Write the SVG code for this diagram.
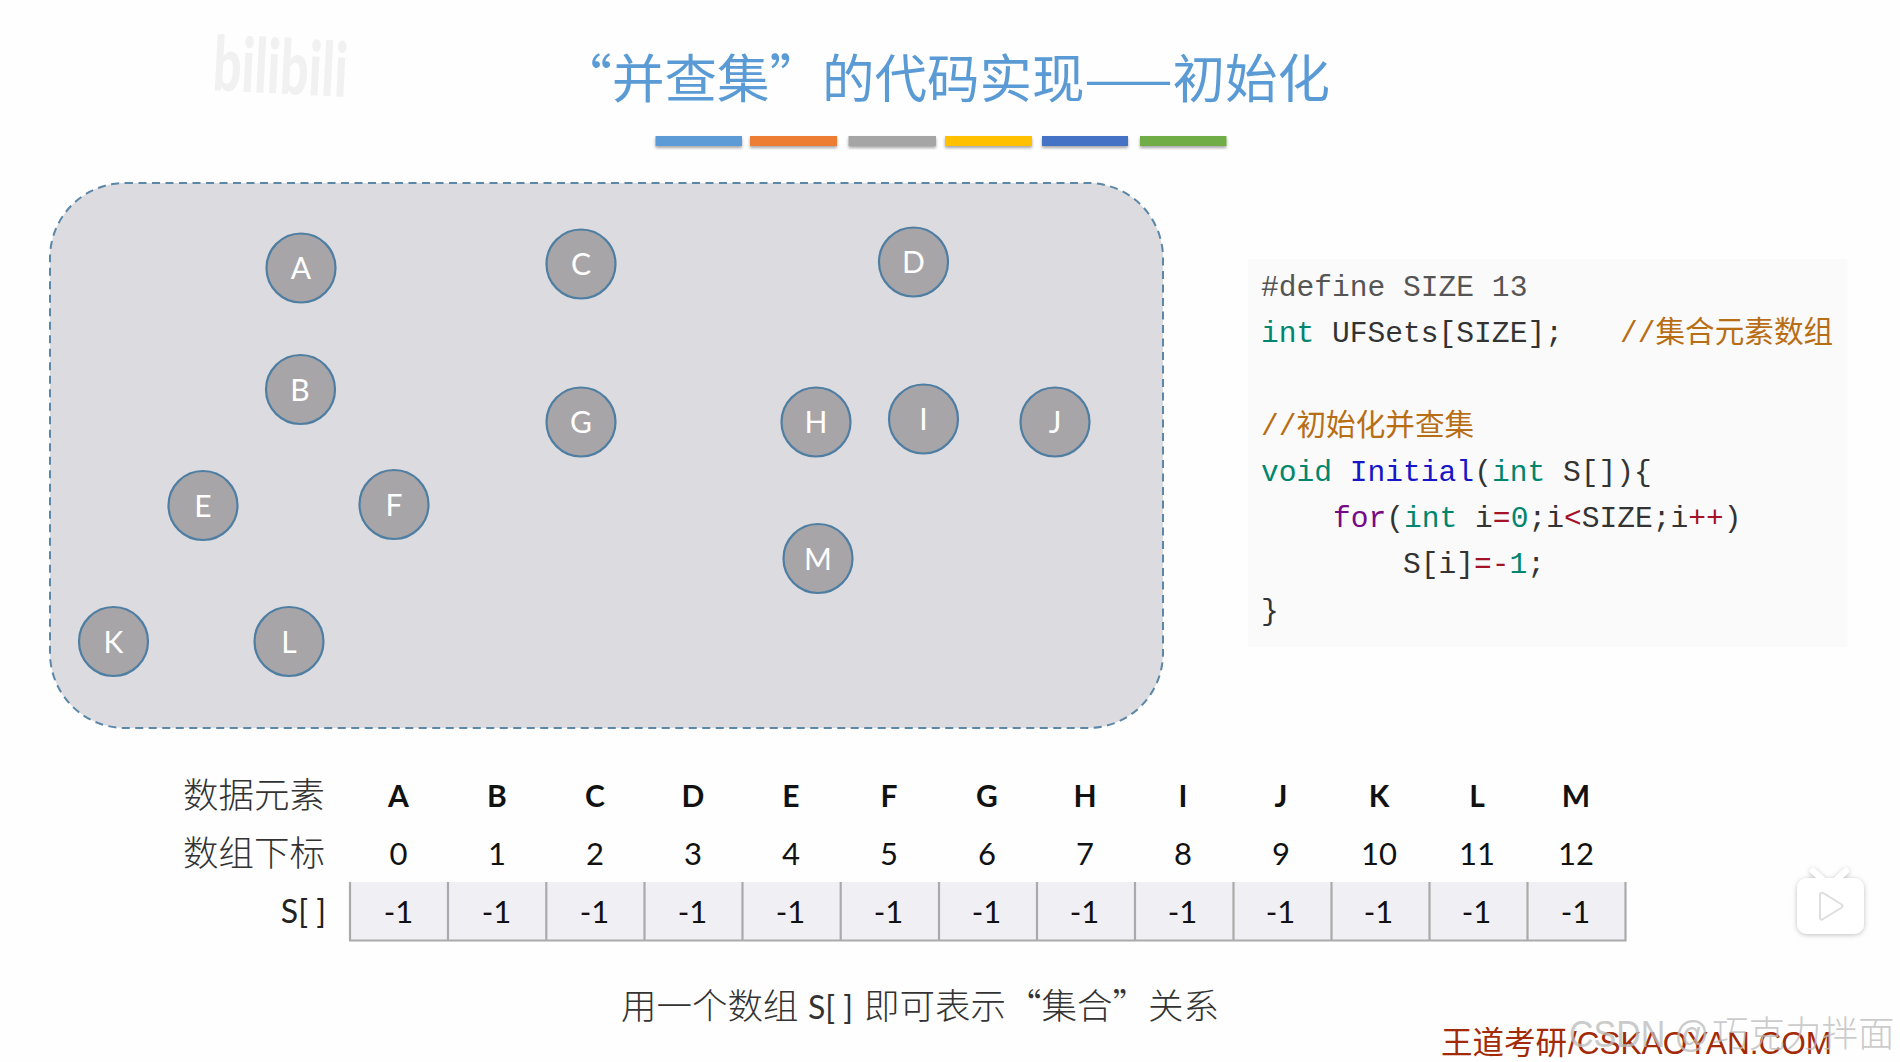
<svg xmlns="http://www.w3.org/2000/svg" width="1900" height="1062" viewBox="0 0 1900 1062">
<style>
.cjk{font-family:"Noto Sans CJK SC","Noto Sans",sans-serif}
.title{font-size:52.5px;fill:#5b9bd5;font-family:"Noto Sans CJK SC",sans-serif}
.node circle{fill:#a7a5a8;stroke:#4f7ea3;stroke-width:2.2}
.node text{font-family:Lato,"Noto Sans",sans-serif;font-size:30px;fill:#fff;text-anchor:middle}
.code{font-family:"Liberation Mono","Noto Sans CJK SC",monospace;font-size:29.6px;fill:#333;white-space:pre;stroke:#333;stroke-width:0}
.g{fill:#00866e}.b{fill:#1616c8}.p{fill:#760a86}.r{fill:#a31226}.c{fill:#b86e14}.d{fill:#555}
.h{font-family:Lato,sans-serif;font-size:30px;font-weight:700;fill:#111;text-anchor:middle}
.n{font-family:Lato,sans-serif;font-size:31px;fill:#111;text-anchor:middle}
.lab{font-family:"Noto Sans CJK SC",sans-serif;font-size:35.5px;fill:#333;font-weight:300}
.cell{fill:#f0eff3}
.grid{stroke:#aaa;stroke-width:2.2;fill:none}
</style>
<defs>
<filter id="sh" x="-20%" y="-20%" width="140%" height="160%"><feDropShadow dx="0" dy="2" stdDeviation="1.6" flood-color="#000" flood-opacity=".35"/></filter>
<filter id="soft" x="-30%" y="-30%" width="160%" height="160%"><feDropShadow dx="0" dy="1" stdDeviation="2.5" flood-color="#000" flood-opacity=".25"/></filter>
</defs>
<rect width="1900" height="1062" fill="#fefefe"/>
<g id="watermark-logo"><text transform="translate(212 90) rotate(3) scale(.96 1.45)" font-family="Lato,sans-serif" font-weight="900" font-size="52" fill="#f1f1f1">bilibili</text></g>
<g id="title"><text class="title" x="559.5" y="98">“并查集”的代码实现——初始化</text></g>
<g id="title-bars" filter="url(#sh)">
<rect x="655.5" y="136" width="86.5" height="10" fill="#5b9bd5"/>
<rect x="750" y="136" width="87" height="10" fill="#ed7d31"/>
<rect x="848.500" y="136" width="87.500" height="10" fill="#a5a5a5"/>
<rect x="945" y="136" width="87" height="10" fill="#ffc000"/>
<rect x="1042" y="136" width="86" height="10" fill="#4472c4"/>
<rect x="1140" y="136" width="86.500" height="10" fill="#70ad47"/>
</g>
<g id="set-panel"><rect x="50" y="183" width="1113" height="545" rx="75" ry="75" fill="#dcdbdf" stroke="#5b87a8" stroke-width="2" stroke-dasharray="8 5.500"/></g>
<g id="node-A" class="node"><circle cx="301" cy="268" r="34.5"/><text x="301" y="279">A</text></g>
<g id="node-B" class="node"><circle cx="300.500" cy="389.500" r="34.500"/><text x="300" y="400.500">B</text></g>
<g id="node-C" class="node"><circle cx="581" cy="264" r="34.500"/><text x="581" y="275">C</text></g>
<g id="node-D" class="node"><circle cx="913.500" cy="262" r="34.500"/><text x="913.500" y="273">D</text></g>
<g id="node-E" class="node"><circle cx="203" cy="505.500" r="34.500"/><text x="203" y="516.500">E</text></g>
<g id="node-F" class="node"><circle cx="394" cy="504.500" r="34.500"/><text x="394" y="515.500">F</text></g>
<g id="node-G" class="node"><circle cx="581" cy="422" r="34.500"/><text x="581" y="433">G</text></g>
<g id="node-H" class="node"><circle cx="816" cy="422" r="34.500"/><text x="816" y="433">H</text></g>
<g id="node-I" class="node"><circle cx="923.500" cy="419" r="34.500"/><text x="923.500" y="430">I</text></g>
<g id="node-J" class="node"><circle cx="1055" cy="422" r="34.500"/><text x="1055" y="433">J</text></g>
<g id="node-M" class="node"><circle cx="818" cy="558.500" r="34.500"/><text x="818" y="569.500">M</text></g>
<g id="node-K" class="node"><circle cx="113.500" cy="641.500" r="34.500"/><text x="113.500" y="652.500">K</text></g>
<g id="node-L" class="node"><circle cx="289" cy="641.500" r="34.500"/><text x="289" y="652.500">L</text></g>
<g id="code-block">
<rect x="1248" y="259" width="599.500" height="388" fill="#fafafa"/>
<text class="code" y="296"><tspan x="1261" class="d">#define SIZE 13</tspan></text>
<text class="code" y="342"><tspan x="1261" class="g">int</tspan><tspan> UFSets[SIZE];</tspan><tspan x="1620" class="c">//集合元素数组</tspan></text>
<text class="code" y="435"><tspan x="1261" class="c">//初始化并查集</tspan></text>
<text class="code" y="481"><tspan x="1261" class="g">void</tspan><tspan> </tspan><tspan class="b">Initial</tspan><tspan>(</tspan><tspan class="g">int</tspan><tspan> S[]){</tspan></text>
<text class="code" y="527"><tspan x="1333" class="p">for</tspan><tspan>(</tspan><tspan class="g">int</tspan><tspan> i</tspan><tspan class="r">=</tspan><tspan class="g">0</tspan><tspan>;i</tspan><tspan class="r">&lt;</tspan><tspan>SIZE;i</tspan><tspan class="r">++</tspan><tspan>)</tspan></text>
<text class="code" y="573"><tspan x="1403">S[i]</tspan><tspan class="r">=-</tspan><tspan class="g">1</tspan><tspan>;</tspan></text>
<text class="code" y="620"><tspan x="1261">}</tspan></text>
</g>
<g id="array-labels">
<text class="lab" x="183" y="808">数据元素</text>
<text class="lab" x="183" y="866">数组下标</text>
<text x="326" y="923" text-anchor="end" font-family="Lato,sans-serif" font-size="32" fill="#222" xml:space="preserve">S[ ]</text>
</g>
<g id="array-header">
<text class="h" x="398.500" y="807">A</text><text class="h" x="497" y="807">B</text><text class="h" x="595" y="807">C</text><text class="h" x="693" y="807">D</text><text class="h" x="791" y="807">E</text><text class="h" x="889" y="807">F</text><text class="h" x="987" y="807">G</text><text class="h" x="1085" y="807">H</text><text class="h" x="1183" y="807">I</text><text class="h" x="1281" y="807">J</text><text class="h" x="1379" y="807">K</text><text class="h" x="1477" y="807">L</text><text class="h" x="1576" y="807">M</text>
<text class="n" x="398.500" y="865">0</text><text class="n" x="497" y="865">1</text><text class="n" x="595" y="865">2</text><text class="n" x="693" y="865">3</text><text class="n" x="791" y="865">4</text><text class="n" x="889" y="865">5</text><text class="n" x="987" y="865">6</text><text class="n" x="1085" y="865">7</text><text class="n" x="1183" y="865">8</text><text class="n" x="1281" y="865">9</text><text class="n" x="1379" y="865">10</text><text class="n" x="1477" y="865">11</text><text class="n" x="1576" y="865">12</text>
</g>
<g id="array-cells">
<rect class="cell" x="350" y="882" width="1275" height="58"/>
<path class="grid" d="M350 882V940.500H1625.500V882M448 882V940M546.300 882V940M644.500 882V940M742.500 882V940M840.700 882V940M939 882V940M1037 882V940M1135 882V940M1233.500 882V940M1331.500 882V940M1429.500 882V940M1527.500 882V940"/>
<text class="n" x="398.500" y="923">-1</text><text class="n" x="496.500" y="923">-1</text><text class="n" x="594.500" y="923">-1</text><text class="n" x="692.500" y="923">-1</text><text class="n" x="790.500" y="923">-1</text><text class="n" x="888.500" y="923">-1</text><text class="n" x="986.500" y="923">-1</text><text class="n" x="1084.500" y="923">-1</text><text class="n" x="1182.500" y="923">-1</text><text class="n" x="1280.500" y="923">-1</text><text class="n" x="1378.500" y="923">-1</text><text class="n" x="1476.500" y="923">-1</text><text class="n" x="1575.500" y="923">-1</text>
</g>
<g id="caption"><text class="lab" y="1019"><tspan x="621">用一个数组</tspan><tspan x="808" font-family="Lato,sans-serif" font-size="32" font-weight="400" xml:space="preserve">S[ ]</tspan><tspan x="864">即可表示“集合”关系</tspan></text></g>
<g id="play-icon" filter="url(#soft)">
<path d="M1813 871L1822 879M1846 871L1837 879" stroke="#fff" stroke-width="6" stroke-linecap="round"/>
<rect x="1797" y="878" width="67" height="56" rx="10" fill="#fff"/>
<path d="M1820 895Q1820 892 1823 893L1841 904Q1844 906 1841 908L1823 919Q1820 921 1820 917Z" fill="#fff" stroke="#dedede" stroke-width="2"/>
</g>
<g id="footer">
<text y="1054" fill="#a32a06" font-size="31.500"><tspan x="1441" font-family="Noto Sans CJK SC,sans-serif">王道考研</tspan><tspan x="1568" font-family="Liberation Sans,sans-serif" textLength="264" lengthAdjust="spacingAndGlyphs">/CSKAOYAN.COM</tspan></text>
<text y="1047" fill="#bdbdbd" fill-opacity=".8" font-size="36.500"><tspan x="1569" font-family="Liberation Sans,sans-serif" textLength="140" lengthAdjust="spacingAndGlyphs">CSDN @</tspan><tspan x="1712" font-family="Noto Sans CJK SC,sans-serif" font-weight="300">巧克力拌面</tspan></text>
</g>
</svg>
